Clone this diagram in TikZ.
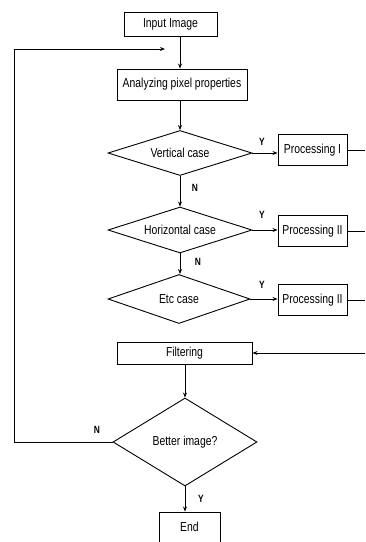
\documentclass[tikz,border=0pt]{standalone}
\usepackage{fontspec}
\setmainfont{Liberation Sans}[FakeStretch=0.8]
\usetikzlibrary{shapes.geometric,arrows.meta}
\begin{document}
\begin{tikzpicture}[x=1pt,y=-1pt,
  every node/.style={font=\fontsize{13}{14}\selectfont},
  procbox/.style={draw,line width=0.9pt,inner sep=0pt,minimum width=#1},
  decbox/.style={draw,diamond,line width=0.9pt,inner sep=0pt,shape aspect=#1},
  arr/.style={line width=0.9pt,-{Stealth[length=5pt,width=4pt]}},
  ln/.style={line width=0.9pt},
  yn/.style={font=\fontsize{10.5}{11}\selectfont\bfseries,inner sep=0pt}]
\fill[white] (0,0) rectangle (365,542);
\useasboundingbox (0,0) rectangle (365,542);

\node[procbox=93pt,minimum height=24pt] (in) at (170.5,24) {Input Image};
\node[procbox=130pt,minimum height=31pt] (an) at (182,84.5) {Analyzing pixel properties};
\node[decbox=3.2,minimum width=144pt,minimum height=45pt] (vc) at (180,153) {Vertical case};
\node[decbox=3.1,minimum width=144pt,minimum height=46pt] (hc) at (180,230) {Horizontal case};
\node[decbox=2.9,minimum width=142pt,minimum height=49pt] (ec) at (179,299) {Etc case};
\node[procbox=69pt,minimum height=31pt] (p1) at (312.5,150) {Processing I};
\node[procbox=69pt,minimum height=31pt] (p2) at (312.5,231) {Processing II};
\node[procbox=69pt,minimum height=31pt] (p3) at (312.5,300) {Processing II};
\node[procbox=135pt,minimum height=22pt] (fi) at (184.5,353.5) {Filtering};
\node[decbox=1.64,minimum width=144pt,minimum height=88pt] (bi) at (185,442) {Better image?};
\node[procbox=61pt,minimum height=30pt] (en) at (189.5,527) {End};

\coordinate (o1) at (365,150);
\coordinate (o2) at (365,231);
\coordinate (o3) at (365,300);
\coordinate (fin) at (365,353);
\coordinate (lp1) at (14,442);
\coordinate (lp2) at (14,49);
\coordinate (lpe) at (165,49);

\draw[arr] (in.south -| vc.north) -- (an.north -| vc.north);
\draw[arr] (an.south -| vc.north) -- (vc.north);
\draw[arr] (vc.south) -- (hc.north);
\draw[arr] (hc.south) -- (ec.north -| hc.south);
\draw[arr] (vc.east) -- (p1.west |- vc.east);
\draw[arr] (hc.east) -- (p2.west |- hc.east);
\draw[arr] (ec.east) -- (p3.west |- ec.east);
\draw[ln] (p1.east) -- (o1);
\draw[ln] (p2.east) -- (o2);
\draw[ln] (p3.east) -- (o3);
\draw[arr] (fin) -- (fi.east |- fin);
\draw[arr] (fi.south -| bi.north) -- (bi.north);
\draw[arr] (bi.south) -- (en.north -| bi.south);
\draw[arr] (bi.west) -- (lp1) -- (lp2) -- (lpe);

\node[yn] (y1) at (262,142) {Y};
\node[yn] (n1) at (195,188) {N};
\node[yn] (y2) at (262,215) {Y};
\node[yn] (n2) at (198,262) {N};
\node[yn] (y3) at (262,285) {Y};
\node[yn] (n3) at (97,430) {N};
\node[yn] (y4) at (201,499) {Y};
\end{tikzpicture}
\end{document}
